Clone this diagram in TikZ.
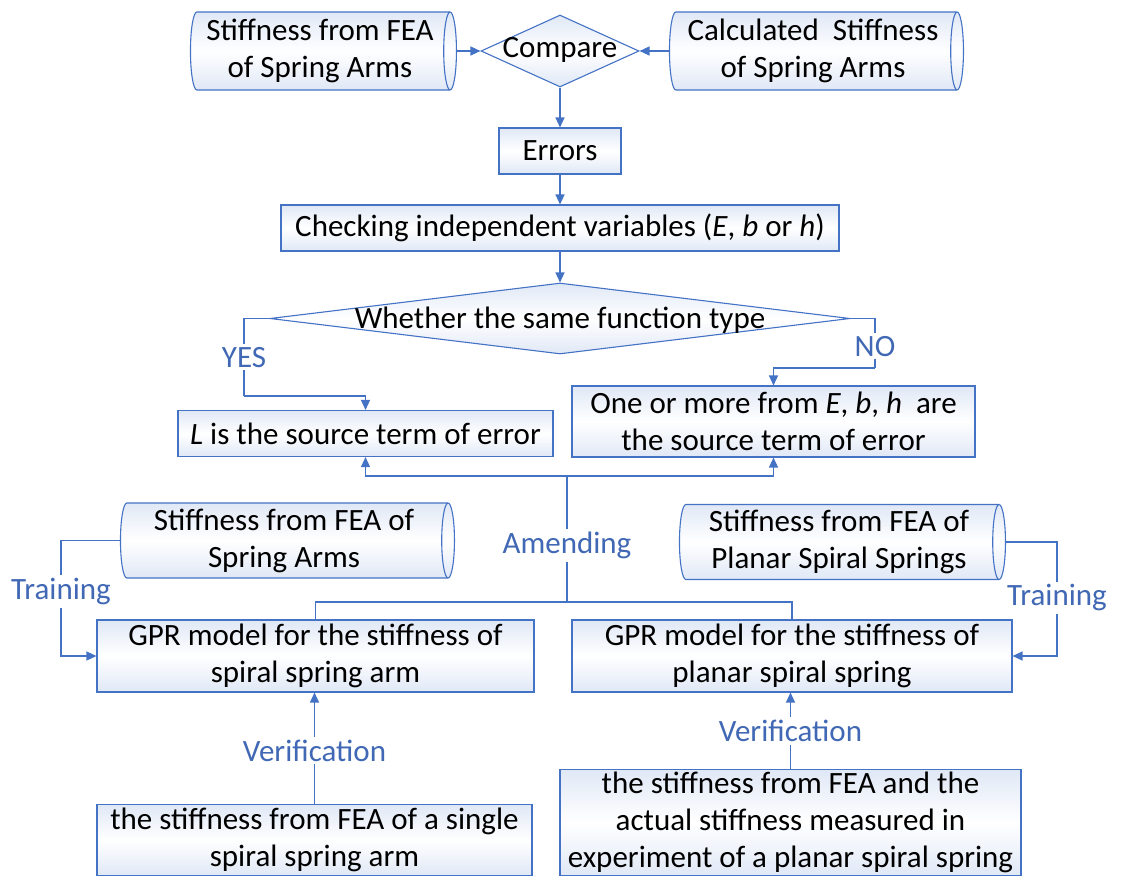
\documentclass[tikz,border=0pt]{standalone}
\usepackage{fontspec}
\setmainfont{Carlito}
\usetikzlibrary{shapes.geometric,arrows.meta}
\definecolor{ln}{HTML}{4472C4}
\definecolor{lb}{HTML}{4068B4}
\definecolor{gA}{HTML}{E0E8F6}
\begin{document}
\begin{tikzpicture}[x=1pt,y=-1pt,
  every node/.style={font=\fontsize{31}{37}\selectfont},
  wire/.style={draw=ln, line width=1.3pt},
  arr/.style={wire, -{Triangle[length=10pt,width=9pt]}},
  fillgrad/.style={top color=gA, bottom color=gA, middle color=white},
  box/.style={draw=ln, line width=1.1pt, fillgrad, inner sep=0pt, align=center},
  cyl/.style={box, shape=cylinder, shape aspect=0.2},
  dia/.style={box, diamond},
  lab/.style={text=lb, fill=white, inner sep=3pt}
]
\useasboundingbox (0,0) rectangle (1124,876);
% top row
\node[cyl, minimum height=266pt, minimum width=78pt] (cylA) at (320,51) {Stiffness from FEA\\of Spring Arms};
\node[cyl, minimum height=294pt, minimum width=78pt] (cylB) at (813,51) {Calculated~ Stiffness\\of Spring Arms};
\node[dia, minimum width=158pt, minimum height=72pt] (cmp) at (560,51) {};
\node (cmpT) at (560,50) {Compare};
\node[box, minimum width=122pt, minimum height=46pt] (err) at (560,151) {Errors};
\node[box, minimum width=558pt, minimum height=46pt] (chk) at (560,228) {Checking independent variables (\textit{E}, \textit{b} or \textit{h})};
\node[dia, minimum width=580pt, minimum height=71pt] (wh) at (560,318.5) {};
\node (whT) at (560,320) {Whether the same function type};
\node[box, minimum width=375pt, minimum height=46pt] (lbx) at (365.5,433.5) {\textit{L} is the source term of error};
\node[box, minimum width=403pt, minimum height=71pt] (obx) at (773.5,421.5) {One or more from \textit{E}, \textit{b}, \textit{h}~ are\\the source term of error};
\node[cyl, minimum height=334pt, minimum width=75pt] (cylC) at (284,540.5) {Stiffness from FEA of\\Spring Arms};
\node[cyl, minimum height=326pt, minimum width=75pt] (cylD) at (839,542) {Stiffness from FEA of\\Planar Spiral Springs};
\node[box, minimum width=437pt, minimum height=72pt] (gprL) at (315.5,656) {GPR model for the stiffness of\\spiral spring arm};
\node[box, minimum width=440pt, minimum height=72pt] (gprR) at (792,656) {GPR model for the stiffness of\\planar spiral spring};
\node[box, minimum width=435pt, minimum height=71pt] (botL) at (314.5,840) {the stiffness from FEA of a single\\spiral spring arm};
\node[box, minimum width=461pt, minimum height=106pt] (botR) at (790.5,822.5) {the stiffness from FEA and the\\actual stiffness measured in\\experiment of a planar spiral spring};
% connectors
\draw[arr] (cylA.east) -- (cylA.east -| cmp.west);
\draw[arr] (cylB.west) -- (cylB.west -| cmp.east);
\draw[arr] (cmp.south) -- (err.north);
\draw[arr] (err.south) -- (chk.north);
\draw[arr] (chk.south) -- (wh.north);
\coordinate (yc) at (244,396);
\draw[wire] (wh.west) -| (yc) node[lab, pos=0.75] {YES};
\draw[arr] (yc) -| (lbx.north);
\coordinate (nc) at (875,368);
\draw[wire] (wh.east) -| (nc) node[lab, pos=0.78] {NO};
\draw[arr] (nc) -| (obx.north);
\coordinate (a1) at (567,476);
\coordinate (a2) at (567,602);
\draw[wire] (a2) -- (a1) node[lab, pos=0.45] {Amending};
\draw[arr] (a1) -| (lbx.south);
\draw[arr] (a1) -| (obx.south);
\draw[wire] (gprL.north) |- (a2) -| (gprR.north);
\coordinate (tl) at (61,656);
\draw[arr] (cylC.west) -| (tl) node[lab, pos=0.72] {Training} -- (gprL.west);
\coordinate (tr) at (1057,656);
\draw[arr] (cylD.east) -| (tr) node[lab, pos=0.745] {Training} -- (gprR.east);
\draw[arr] (botL.north) -- node[lab, pos=0.48] {Verification} (botL.north |- gprL.south);
\draw[arr] (botR.north) -- node[lab, pos=0.5] {Verification} (botR.north |- gprR.south);
\end{tikzpicture}
\end{document}
